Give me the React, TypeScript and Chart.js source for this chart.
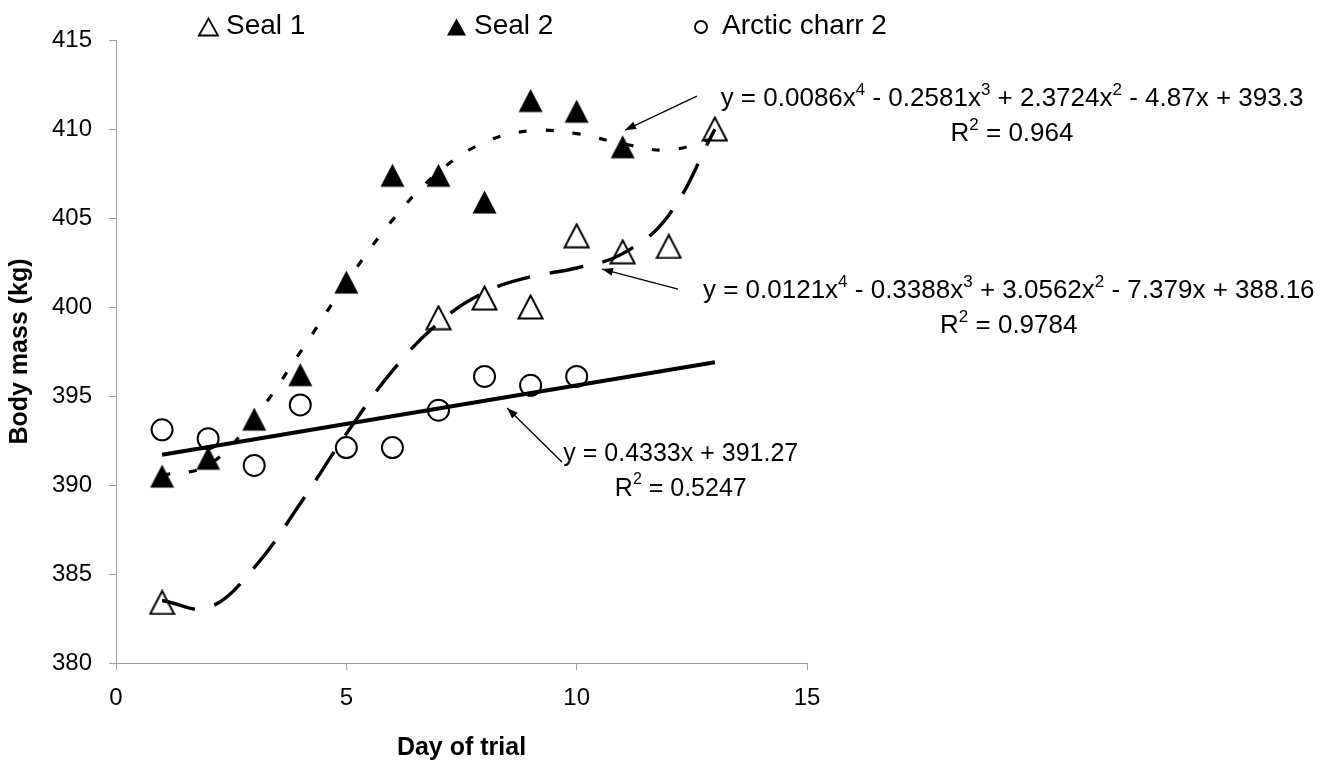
import React, { useEffect, useRef } from "react";
import { Chart, registerables } from "chart.js";

Chart.register(...registerables);

// ---------- data ----------
const seal1Days = [1, 7, 8, 9, 10, 11, 12, 13];
const seal1Mass = [383.4, 399.4, 400.5, 400.0, 404.0, 403.1, 403.4, 410.0];

const seal2Days = [1, 2, 3, 4, 5, 6, 7, 8, 9, 10, 11];
const seal2Mass = [390.5, 391.5, 393.7, 396.2, 401.4, 407.4, 407.4, 405.9, 411.6, 411.0, 409.0];

const charrDays = [1, 2, 3, 4, 5, 6, 7, 8, 9, 10];
const charrMass = [393.1, 392.6, 391.1, 394.5, 392.1, 392.1, 394.2, 396.1, 395.6, 396.1];

// trend lines
const trendDays = [1, 2, 3, 4, 5, 6, 7, 8, 9, 10, 11, 12, 13];
const seal1Trend = [383.51, 383.11, 385.36, 388.96, 392.88, 396.41, 399.1, 400.82, 401.7, 402.19, 403.0, 405.16, 409.98];
const seal2Trend = [390.55, 391.12, 393.77, 397.46, 401.37, 404.88, 407.58, 409.25, 409.9, 409.74, 409.17, 408.82, 409.5];
const charrTrendDays = [1, 13];
const charrTrend = [391.7, 396.9];

const legendLabels = ["Seal 1", "Seal 2", "Arctic charr 2"];

// equation labels: segments alternate normal / superscript
const eq1Line1 = ["y = 0.0086x", "4", " - 0.2581x", "3", " + 2.3724x", "2", " - 4.87x + 393.3"];
const eq1Line2 = ["R", "2", " = 0.964"];
const eq2Line1 = ["y = 0.0121x", "4", " - 0.3388x", "3", " + 3.0562x", "2", " - 7.379x + 388.16"];
const eq2Line2 = ["R", "2", " = 0.9784"];
const eq3Line1 = ["y = 0.4333x + 391.27"];
const eq3Line2 = ["R", "2", " = 0.5247"];

// label anchors (data coordinates)
const eqAnchorX = [19.45, 19.38, 12.26];
const eqAnchorY = [411.69, 400.9, 391.74];
const eqSize = [26, 26, 25];

// arrows: [fromX, fromY, toX, toY] in data coordinates
const arrow1 = [12.61, 411.85, 11.05, 409.94];
const arrow2 = [12.2, 401.01, 10.55, 402.13];
const arrow3 = [9.68, 391.29, 8.49, 394.33];

const FONT = "'Liberation Sans', Arial, Helvetica, sans-serif";

function makeTriangle(filled: boolean): HTMLCanvasElement {
  const c = document.createElement("canvas");
  c.width = 27;
  c.height = 26;
  const g = c.getContext("2d")!;
  g.beginPath();
  g.moveTo(1.5, 24.5);
  g.lineTo(13.5, 1.5);
  g.lineTo(25.5, 24.5);
  g.closePath();
  if (filled) {
    g.fillStyle = "#000";
    g.fill();
  } else {
    g.fillStyle = "#fff";
    g.fill();
    g.lineWidth = 2;
    g.strokeStyle = "#000";
    g.stroke();
  }
  return c;
}

function drawEq(ctx: CanvasRenderingContext2D, segs: string[], cx: number, cy: number, size: number) {
  const big = `${size}px ${FONT}`;
  const small = `${Math.round(size * 0.64)}px ${FONT}`;
  let total = 0;
  segs.forEach((s, i) => {
    ctx.font = i % 2 === 0 ? big : small;
    total += ctx.measureText(s).width;
  });
  let x = cx - total / 2;
  ctx.textAlign = "left";
  ctx.textBaseline = "middle";
  segs.forEach((s, i) => {
    ctx.font = i % 2 === 0 ? big : small;
    ctx.fillText(s, x, i % 2 === 0 ? cy : cy - 9);
    x += ctx.measureText(s).width;
  });
}

const annotate = {
  id: "annotate",
  afterDatasetsDraw(chart: any) {
    const { ctx } = chart;
    const xs = chart.scales.x;
    const ys = chart.scales.y;
    ctx.save();
    ctx.fillStyle = "#000";
    ctx.strokeStyle = "#000";

    // arrows
    [arrow1, arrow2, arrow3].forEach((a) => {
      const x1 = xs.getPixelForValue(a[0]);
      const y1 = ys.getPixelForValue(a[1]);
      const x2 = xs.getPixelForValue(a[2]);
      const y2 = ys.getPixelForValue(a[3]);
      ctx.lineWidth = 1.3;
      ctx.beginPath();
      ctx.moveTo(x1, y1);
      ctx.lineTo(x2, y2);
      ctx.stroke();
      const ang = Math.atan2(y2 - y1, x2 - x1);
      const L = 11;
      const W = 4;
      const bx = x2 - L * Math.cos(ang);
      const by = y2 - L * Math.sin(ang);
      ctx.beginPath();
      ctx.moveTo(x2, y2);
      ctx.lineTo(bx + W * Math.sin(ang), by - W * Math.cos(ang));
      ctx.lineTo(bx - W * Math.sin(ang), by + W * Math.cos(ang));
      ctx.closePath();
      ctx.fill();
    });

    // equations
    const lines = [
      [eq1Line1, eq1Line2],
      [eq2Line1, eq2Line2],
      [eq3Line1, eq3Line2],
    ];
    lines.forEach((pair, i) => {
      const cx = xs.getPixelForValue(eqAnchorX[i]);
      const cy = ys.getPixelForValue(eqAnchorY[i]);
      drawEq(ctx, pair[0], cx, cy, eqSize[i]);
      drawEq(ctx, pair[1], cx, cy + 35, eqSize[i]);
    });

    // legend
    ctx.font = `28px ${FONT}`;
    ctx.textAlign = "left";
    ctx.textBaseline = "alphabetic";
    ctx.lineWidth = 1.8;
    // open triangle
    ctx.beginPath();
    ctx.moveTo(199, 35.5);
    ctx.lineTo(208.5, 18.5);
    ctx.lineTo(218, 35.5);
    ctx.closePath();
    ctx.stroke();
    ctx.fillText(legendLabels[0], 226, 34);
    // filled triangle
    ctx.beginPath();
    ctx.moveTo(447, 35.5);
    ctx.lineTo(456.5, 18.5);
    ctx.lineTo(466, 35.5);
    ctx.closePath();
    ctx.fill();
    ctx.fillText(legendLabels[1], 474, 34);
    // circle
    ctx.beginPath();
    ctx.arc(701, 27, 6, 0, Math.PI * 2);
    ctx.stroke();
    ctx.fillText(legendLabels[2], 722, 34);

    ctx.restore();
  },
};

export default function App() {
  const ref = useRef<HTMLCanvasElement | null>(null);

  useEffect(() => {
    if (!ref.current) return;
    const openTri = makeTriangle(false);
    const fillTri = makeTriangle(true);
    const pts = (xsArr: number[], ysArr: number[]) => xsArr.map((x, i) => ({ x, y: ysArr[i] }));
    const axisColor = "#a0a0a0";

    const chart = new Chart(ref.current, {
      type: "scatter",
      data: {
        datasets: [
          {
            label: "Seal 2 trend",
            type: "line",
            data: pts(trendDays, seal2Trend),
            borderColor: "#000",
            borderWidth: 3.2,
            borderDash: [8, 19],
            pointRadius: 0,
            tension: 0.4,
            fill: false,
            order: 0,
          },
          {
            label: "Seal 1 trend",
            type: "line",
            data: pts(trendDays, seal1Trend),
            borderColor: "#000",
            borderWidth: 3.4,
            borderDash: [34, 20],
            pointRadius: 0,
            tension: 0.4,
            fill: false,
            order: 0,
          },
          {
            label: "Arctic charr 2 trend",
            type: "line",
            data: pts(charrTrendDays, charrTrend),
            borderColor: "#000",
            borderWidth: 4,
            pointRadius: 0,
            fill: false,
            order: 0,
          },
          {
            label: legendLabels[0],
            data: pts(seal1Days, seal1Mass),
            pointStyle: openTri as any,
            pointRadius: 12,
            order: 1,
          },
          {
            label: legendLabels[1],
            data: pts(seal2Days, seal2Mass),
            pointStyle: fillTri as any,
            pointRadius: 12,
            order: 1,
          },
          {
            label: legendLabels[2],
            data: pts(charrDays, charrMass),
            pointStyle: "circle",
            pointRadius: 10.5,
            pointBorderWidth: 2,
            pointBackgroundColor: "#fff",
            pointBorderColor: "#000",
            order: 1,
          },
        ],
      },
      options: {
        responsive: false,
        animation: false,
        events: [],
        layout: { padding: { left: 0, top: 40, right: 518, bottom: 0 } },
        plugins: {
          legend: { display: false },
          tooltip: { enabled: false },
        },
        scales: {
          x: {
            type: "linear",
            min: 0,
            max: 15,
            afterFit: (s: any) => {
              s.height = 100;
            },
            ticks: {
              stepSize: 5,
              color: "#000",
              padding: 14,
              font: { family: FONT, size: 24 },
            },
            grid: {
              drawOnChartArea: false,
              drawTicks: true,
              tickLength: 7,
              color: axisColor,
            },
            border: { color: axisColor, width: 1 },
            title: {
              display: true,
              text: "Day of trial",
              color: "#000",
              font: { family: FONT, size: 25, weight: "bold" },
              padding: { top: 0, bottom: 0 },
            },
          },
          y: {
            type: "linear",
            min: 380,
            max: 415,
            afterFit: (s: any) => {
              s.width = 116;
            },
            ticks: {
              stepSize: 5,
              color: "#000",
              padding: 17,
              font: { family: FONT, size: 24 },
            },
            grid: {
              drawOnChartArea: false,
              drawTicks: true,
              tickLength: 7,
              color: axisColor,
            },
            border: { color: axisColor, width: 1 },
            title: {
              display: true,
              text: "Body mass (kg)",
              color: "#000",
              font: { family: FONT, size: 25, weight: "bold" },
              padding: { top: 5, bottom: 0 },
            },
          },
        },
      },
      plugins: [annotate],
    } as any);

    return () => chart.destroy();
  }, []);

  return (
    <div style={{ position: "absolute", left: 0, top: 0, width: 1325, height: 763, background: "#fff" }}>
      <canvas ref={ref} width={1325} height={763} style={{ display: "block" }} />
    </div>
  );
}
